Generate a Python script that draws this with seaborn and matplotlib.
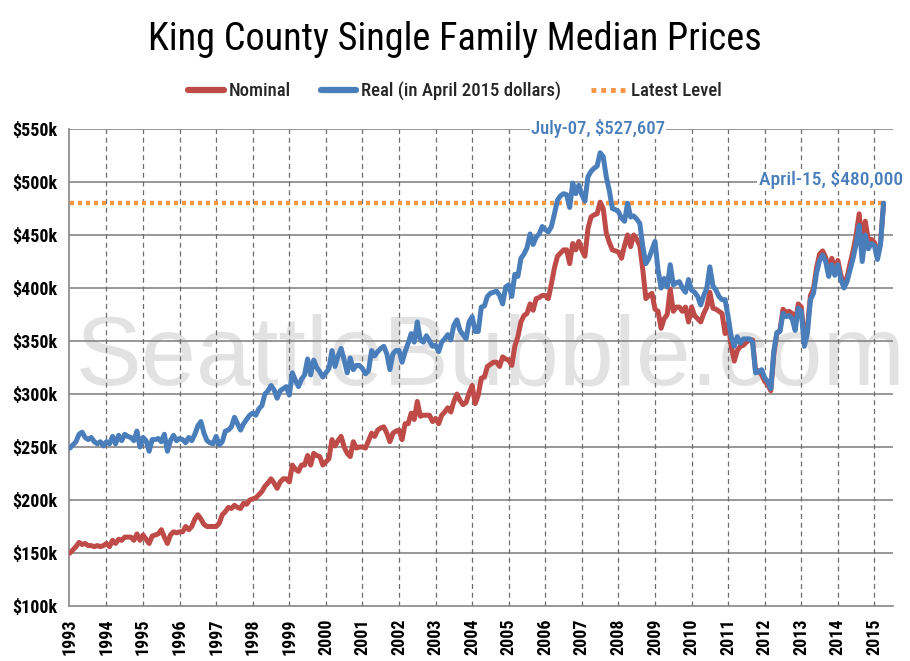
import numpy as np
import pandas as pd
import matplotlib
matplotlib.use("Agg")
import matplotlib.pyplot as plt
from matplotlib import font_manager
from matplotlib.lines import Line2D
import seaborn as sns

# ---------------- data (thousands of dollars, monthly Jan 1993 - Apr 2015) ----------------
years = list(range(1993, 2016))
y_ticks_k = [100, 150, 200, 250, 300, 350, 400, 450, 500, 550]
y_tick_labels = ["$100k", "$150k", "$200k", "$250k", "$300k", "$350k",
                 "$400k", "$450k", "$500k", "$550k"]

nominal_k = [
    150, 153, 156, 160, 158, 159, 157, 157, 156, 157, 156, 157,   # 1993
    159, 156, 162, 159, 163, 162, 165, 165, 165, 162, 168, 162,   # 1994
    167, 163, 159, 166, 167, 168, 172, 165, 159, 167, 170, 169,   # 1995
    170, 170, 175, 172, 175, 182, 186, 182, 177, 175, 175, 175,   # 1996
    175, 178, 186, 189, 193, 192, 195, 193, 192, 197, 196, 200,   # 1997
    201, 202, 205, 208, 213, 216, 220, 216, 211, 217, 220, 220,   # 1998
    217, 233, 229, 227, 233, 233, 242, 233, 244, 242, 241, 233,   # 1999
    236, 239, 257, 251, 256, 260, 250, 244, 241, 255, 249, 250,   # 2000
    250, 249, 256, 263, 260, 266, 268, 269, 263, 255, 263, 265,   # 2001
    266, 257, 272, 272, 282, 276, 293, 279, 280, 280, 280, 274,   # 2002
    277, 272, 280, 283, 287, 283, 293, 300, 294, 290, 292, 301,   # 2003
    308, 291, 299, 315, 316, 326, 328, 330, 330, 326, 335, 333,   # 2004
    332, 327, 345, 354, 368, 374, 376, 385, 379, 390, 391, 393,   # 2005
    393, 390, 404, 419, 430, 433, 436, 436, 423, 442, 436, 444,   # 2006
    436, 430, 456, 467, 469, 470, 481, 475, 452, 443, 436, 435,   # 2007
    434, 428, 440, 450, 439, 450, 446, 440, 417, 390, 393, 395,   # 2008
    380, 378, 362, 371, 375, 399, 378, 382, 382, 378, 382, 368,   # 2009
    382, 374, 371, 368, 376, 382, 396, 381, 380, 378, 376, 357,   # 2010
    367, 345, 331, 341, 345, 346, 349, 351, 351, 322, 322, 318,   # 2011
    312, 309, 303, 338, 357, 360, 380, 377, 378, 376, 366, 385,   # 2012
    382, 351, 362, 393, 399, 419, 432, 435, 429, 417, 428, 418,   # 2013
    426, 412, 404, 410, 423, 435, 450, 470, 440, 463, 445, 446,   # 2014
    443, 430, 443, 480,                                           # 2015
]

real_k = [
    249, 252, 255, 262, 264, 259, 257, 259, 255, 253, 255, 251,   # 1993
    255, 253, 260, 253, 261, 256, 262, 260, 259, 256, 265, 250,   # 1994
    259, 256, 246, 257, 257, 258, 255, 262, 246, 256, 261, 256,   # 1995
    258, 257, 254, 259, 256, 262, 270, 274, 263, 256, 254, 253,   # 1996
    260, 252, 255, 265, 266, 269, 278, 272, 266, 272, 276, 280,   # 1997
    282, 280, 286, 289, 300, 303, 308, 304, 296, 303, 305, 307,   # 1998
    299, 320, 313, 307, 314, 318, 333, 318, 332, 325, 321, 316,   # 1999
    320, 324, 341, 326, 336, 343, 332, 320, 334, 323, 327, 327,   # 2000
    324, 319, 322, 341, 336, 340, 343, 345, 338, 323, 338, 341,   # 2001
    341, 330, 340, 348, 357, 349, 368, 351, 349, 355, 350, 345,   # 2002
    346, 340, 349, 352, 356, 351, 365, 370, 360, 356, 352, 368,   # 2003
    373, 359, 359, 382, 383, 392, 395, 396, 397, 393, 385, 401,   # 2004
    403, 392, 413, 411, 428, 432, 438, 451, 441, 448, 451, 458,   # 2005
    455, 453, 458, 470, 483, 487, 489, 488, 476, 499, 489, 497,   # 2006
    488, 482, 505, 510, 513, 515, 527.607, 524, 505, 492, 475, 474,  # 2007
    472, 466, 463, 480, 467, 468, 465, 461, 439, 423, 428, 436,   # 2008
    444, 417, 400, 409, 401, 422, 403, 405, 406, 400, 396, 408,   # 2009
    398, 396, 392, 384, 393, 400, 420, 402, 398, 392, 389, 389,   # 2010
    373, 354, 345, 354, 348, 352, 352, 352, 349, 320, 321, 323,   # 2011
    315, 312, 305, 341, 358, 359, 376, 373, 374, 371, 360, 381,   # 2012
    378, 345, 357, 389, 395, 414, 426, 431, 425, 411, 422, 412,   # 2013
    422, 408, 400, 406, 417, 428, 442, 459, 425, 450, 437, 442,   # 2014
    440, 427, 441, 480,                                           # 2015
]

latest_level_k = 480
peak_label = "July-07, $527,607"
latest_label = "April-15, $480,000"
series_names = ["Nominal", "Real (in April 2015 dollars)", "Latest Level"]

# ---------------- fonts ----------------
names = {f.name for f in font_manager.fontManager.ttflist}
candidates = ["Roboto Condensed", "Noto Sans Condensed", "Liberation Sans Narrow",
              "Open Sans Condensed", "DejaVu Sans Condensed", "Noto Sans ExtraCondensed",
              "Noto Sans SemiCondensed", "Roboto", "Lato"]
chosen = next((c for c in candidates if c in names), "DejaVu Sans")
NARROW = [chosen, "DejaVu Sans"]
is_condensed = chosen not in ("Roboto", "Lato", "DejaVu Sans")
SCALE = 1.0 if is_condensed else 0.86

sns.set_theme(style="white")
plt.rcParams["font.family"] = NARROW

RED = "#BE4B48"
BLUE = "#4A7EBB"
ORANGE = "#F79646"
GRID = "#868686"

n = len(real_k)
m = np.arange(n)
df = pd.DataFrame({
    "month": np.concatenate([m, m, m]),
    "value": np.concatenate([nominal_k, real_k, [latest_level_k] * n]),
    "series": [series_names[0]] * n + [series_names[1]] * n + [series_names[2]] * n,
})

fig = plt.figure(figsize=(9.1, 6.61), dpi=100)
ax = fig.add_axes([0.0758, 0.0832, 0.981 - 0.0758, 0.8048 - 0.0832])
ax.set_facecolor("none")

# watermark (kept inside the plot area, behind everything)
wm = fig.text(0.5 + 35 / 910, 1 - 385 / 661, "SeattleBubble.com", ha="center",
              va="baseline", fontsize=100, color="#E2E2E2",
              family=["Liberation Sans", "DejaVu Sans"], zorder=-5)
fig.canvas.draw()
bb = wm.get_window_extent()
wm.set_fontsize(100 * 830 / bb.width)

sns.lineplot(data=df[df.series == series_names[2]], x="month", y="value",
             color=ORANGE, lw=3.2, ax=ax, zorder=3, linestyle=(0, (0.9, 0.9)),
             legend=False)
sns.lineplot(data=df[df.series == series_names[0]], x="month", y="value",
             color=RED, lw=3.6, ax=ax, zorder=4, legend=False)
sns.lineplot(data=df[df.series == series_names[1]], x="month", y="value",
             color=BLUE, lw=3.6, ax=ax, zorder=5, legend=False)

ax.set_xlim(-0.3, 270)
ax.set_ylim(100, 550)
ax.set_xlabel("")
ax.set_ylabel("")

xt = [12 * (y - years[0]) for y in years]
ax.set_xticks(xt)
ax.set_xticklabels([str(y) for y in years], rotation=90, fontsize=13 * SCALE,
                   fontweight="bold")
ax.set_yticks(y_ticks_k)
ax.set_yticklabels(y_tick_labels, fontsize=13 * SCALE, fontweight="bold")
ax.tick_params(axis="both", direction="out", length=5, width=1, color=GRID,
               pad=3, labelcolor="black")
ax.tick_params(axis="x", pad=4)

for yv in y_ticks_k[1:]:
    ax.axhline(yv, color=GRID, lw=1.2, zorder=1)
for xv in xt[1:]:
    ax.axvline(xv, color="#6E6E6E", lw=0.9, ls=(0, (4, 3)), zorder=1)

for s in ["top", "right"]:
    ax.spines[s].set_visible(False)
for s in ["left", "bottom"]:
    ax.spines[s].set_color(GRID)
    ax.spines[s].set_linewidth(1.2)

# annotations
ax.text(173.3, 550.9, peak_label, ha="center", va="center", color=BLUE,
        fontsize=13.5 * SCALE, fontweight="medium", clip_on=False, zorder=6,
        bbox=dict(facecolor="white", edgecolor="none", pad=1))
ax.text(249.7, 502, latest_label, ha="center", va="center", color=BLUE,
        fontsize=14 * SCALE, fontweight="medium", clip_on=False, zorder=6,
        bbox=dict(facecolor="white", edgecolor="none", pad=1))

# title
fig.text(0.5, 1 - 40 / 661, "King County Single Family Median Prices", ha="center",
         va="center", fontsize=(27.5 if is_condensed else 24), color="black")

handles = [Line2D([], [], color=RED, lw=4.5),
           Line2D([], [], color=BLUE, lw=4.5),
           Line2D([], [], color=ORANGE, lw=3.5, linestyle=(0, (1, 1)))]
fig.legend(handles, series_names, loc="center", bbox_to_anchor=(0.5, 1 - 91 / 661),
           ncol=3, frameon=False, handlelength=1.9, handletextpad=0.25,
           columnspacing=1.6, prop={"size": 13.5 * SCALE, "weight": "medium"})

fig.savefig("out.png", dpi=100)
